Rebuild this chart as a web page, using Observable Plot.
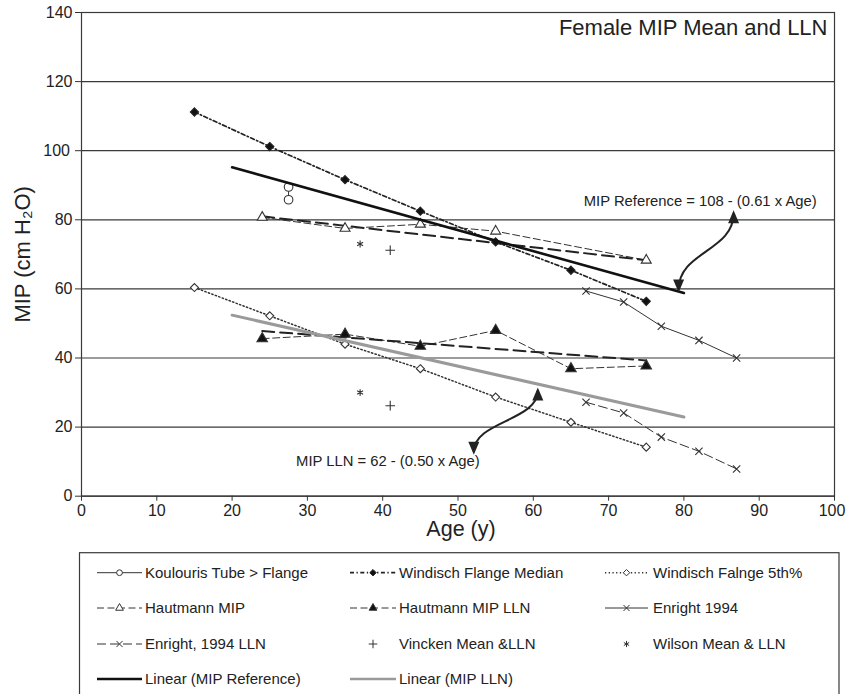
<!DOCTYPE html>
<html><head><meta charset="utf-8">
<script src="https://cdn.jsdelivr.net/npm/d3@7"></script>
<script src="https://cdn.jsdelivr.net/npm/@observablehq/plot@0.6"></script>
<style>
body{margin:0;background:#fff;font-family:"Liberation Sans",Arial,sans-serif;}
#chart svg,#legend svg{display:block}
</style></head><body><div id="chart"></div><div id="legend"></div>
<script>
// ---------- data ----------
const xTicks = [0,10,20,30,40,50,60,70,80,90,100];
const yTicks = [0,20,40,60,80,100,120,140];

const koulourisAge = [27.5, 27.5];
const koulourisMIP = [89.5, 85.8];
const windischMedianAge = [15,25,35,45,55,65,75];
const windischMedianMIP = [111.2,101.2,91.6,82.5,73.6,65.4,56.4];
const windisch5thAge = [15,25,35,45,55,65,75];
const windisch5thMIP = [60.4,52.2,44.0,36.9,28.7,21.4,14.2];
const hautmannAge = [24,35,45,55,75];
const hautmannMIP = [80.7,77.5,78.7,76.7,68.3];
const hautmannLLNAge = [24,35,45,55,65,75];
const hautmannLLNMIP = [45.6,46.9,43.4,48.0,36.9,37.7];
const hautmannTrendAge = [24,75];
const hautmannTrendMIP = [81.0,68.3];
const hautmannLLNTrendMIP = [47.8,39.3];
const enrightAge = [67,72,77,82,87];
const enrightMIP = [59.4,56.2,49.2,45.1,40.0];
const enrightLLNMIP = [27.2,24.1,17.1,13.0,7.9];
const vinckenAge = [41,41];
const vinckenMIP = [71.2,26.2];
const wilsonAge = [37,37];
const wilsonMIP = [73.0,30.0];
const refLineAge = [20,80];
const refLineMIP = [95.2,58.8];
const llnLineAge = [20,80];
const llnLineMIP = [52.4,22.9];

const seriesNames = ["Koulouris Tube > Flange","Windisch Flange Median","Windisch Falnge 5th%",
  "Hautmann MIP","Hautmann MIP LLN","Enright 1994",
  "Enright, 1994 LLN","Vincken Mean &LLN","Wilson Mean & LLN",
  "Linear (MIP Reference)","Linear (MIP LLN)"];

const seriesData = {
  "Koulouris Tube > Flange": [koulourisAge, koulourisMIP],
  "Windisch Flange Median": [windischMedianAge, windischMedianMIP],
  "Windisch Falnge 5th%": [windisch5thAge, windisch5thMIP],
  "Hautmann MIP": [hautmannAge, hautmannMIP],
  "Hautmann MIP LLN": [hautmannLLNAge, hautmannLLNMIP],
  "Enright 1994": [enrightAge, enrightMIP],
  "Enright, 1994 LLN": [enrightAge, enrightLLNMIP],
  "Vincken Mean &LLN": [vinckenAge, vinckenMIP],
  "Wilson Mean & LLN": [wilsonAge, wilsonMIP],
  "Linear (MIP Reference)": [refLineAge, refLineMIP],
  "Linear (MIP LLN)": [llnLineAge, llnLineMIP]
};
const hautmannTrends = [[hautmannTrendAge, hautmannTrendMIP],[hautmannTrendAge, hautmannLLNTrendMIP]];

const titleText = "Female MIP Mean and LLN";
const xLabel = "Age (y)";
const yLabel = "MIP (cm H\u2082O)";
const annotations = [
  {age:66.7, mip:85.4, text:"MIP Reference = 108 - (0.61 x Age)"},
  {age:28.5, mip:10.0, text:"MIP LLN = 62 - (0.50 x Age)"}
];
const arrows = [
  {x1:86.6, y1:81.9, x2:79.3, y2:59.8},
  {x1:60.6, y1:30.6, x2:52.1, y2:12.9}
];

// ---------- styles ----------
const seriesStyle = {
  "Koulouris Tube > Flange": {stroke:"#333", sw:1, dash:null, symbol:"circle", fill:"white", r:4.3},
  "Windisch Flange Median": {stroke:"#222", sw:1.7, dash:"4,2.5,1.3,2.5", symbol:"diamond2", fill:"#111", r:3.7},
  "Windisch Falnge 5th%": {stroke:"#333", sw:1.5, dash:"1.3,2.4", symbol:"diamond2", fill:"white", r:3.6},
  "Hautmann MIP": {stroke:"#333", sw:1, dash:"7,3.5", symbol:"triangle", fill:"white", r:3.7},
  "Hautmann MIP LLN": {stroke:"#333", sw:1, dash:"7,3.5", symbol:"triangle", fill:"#111", r:3.9},
  "Enright 1994": {stroke:"#333", sw:1, dash:null, symbol:"times", fill:"none", r:3.4},
  "Enright, 1994 LLN": {stroke:"#333", sw:1, dash:"9,4", symbol:"times", fill:"none", r:3.4},
  "Vincken Mean &LLN": {stroke:"#333", sw:1, noLine:true, symbol:"plus", fill:"none", r:3.2},
  "Wilson Mean & LLN": {stroke:"#333", sw:1, noLine:true, symbol:"asterisk", fill:"none", r:3.2},
  "Linear (MIP Reference)": {stroke:"#111", sw:2.6, dash:null, symbol:null},
  "Linear (MIP LLN)": {stroke:"#9a9a9a", sw:3, dash:null, symbol:null}
};
const FONT = "'Liberation Sans', Arial, sans-serif";
const rowsOf = ([a, m]) => a.map((v, i) => ({age: v, mip: m[i]}));

function arrowHead(color) {
  const m = d3.create("svg:marker")
    .attr("viewBox", "-12 -7 16 14")
    .attr("markerWidth", 16).attr("markerHeight", 14)
    .attr("markerUnits", "userSpaceOnUse")
    .attr("orient", "auto-start-reverse")
    .attr("fill", color).attr("stroke", "none");
  m.append("path").attr("d", "M-10,-5.5L3,0L-10,5.5Z");
  return m.node();
}

function build(marker) {
  const lineMarks = [], dotMarks = [], trendMarks = [];
  for (const name of seriesNames) {
    const s = seriesStyle[name];
    const rows = rowsOf(seriesData[name]);
    const lineOpts = {x:"age", y:"mip", stroke:s.stroke, strokeWidth:s.sw};
    if (s.dash) lineOpts.strokeDasharray = s.dash;
    if (name.startsWith("Linear")) trendMarks.push(Plot.line(rows, lineOpts));
    else if (!s.noLine) lineMarks.push(Plot.line(rows, lineOpts));
    if (s.symbol) dotMarks.push(Plot.dot(rows, {x:"age", y:"mip", symbol:s.symbol, r:s.r, fill:s.fill, stroke:s.stroke, strokeWidth:1.1}));
  }
  for (const t of hautmannTrends) {
    lineMarks.push(Plot.line(rowsOf(t), {x:"age", y:"mip", stroke:"#222", strokeWidth:2, strokeDasharray:"12,6"}));
  }
  return Plot.plot({
    width: 846, height: 545,
    marginLeft: 81, marginRight: 12, marginTop: 12, marginBottom: 49.3,
    x: {domain: [0, 100]},
    y: {domain: [0, 140]},
    style: {fontFamily: FONT, color: "#222", background: "white"},
    marks: [
      Plot.gridY(yTicks, {stroke: "#3a3a3a", strokeOpacity: 1, strokeWidth: 1.2}),
      Plot.frame({stroke: "#3a3a3a", strokeWidth: 1.2}),
      Plot.axisX(xTicks, {tickSize: 5, tickPadding: 3, fontSize: 16, label: null, stroke: "#333"}),
      Plot.axisY(yTicks, {tickSize: 6, tickPadding: 3, fontSize: 16, label: null, stroke: "#333"}),
      ...lineMarks,
      ...dotMarks,
      ...trendMarks,
      Plot.link(arrows, {x1:"x1", y1:"y1", x2:"x2", y2:"y2", curve:"bump-y", stroke:"#222", strokeWidth:2,
        markerStart: marker, markerEnd: marker}),
      Plot.text(annotations, {x:"age", y:"mip", text:"text", textAnchor:"start", fontSize:14.8, fill:"#222"}),
      Plot.text([titleText], {frameAnchor:"top-right", dx:-7, dy:15, lineAnchor:"middle", fontSize:22, fill:"#222"}),
      Plot.text([xLabel], {frameAnchor:"bottom", dx:3, dy:33, lineAnchor:"middle", fontSize:21.5, fill:"#222"}),
      Plot.text([yLabel], {frameAnchor:"left", textAnchor:"middle", dx:-59, rotate:-90, lineAnchor:"middle", fontSize:22, fill:"#222"})
    ]
  });
}

let chart;
try { chart = build(arrowHead); } catch (e) { chart = build("arrow"); }
document.getElementById("chart").append(chart);
// keep the last x tick label ("100") inside the window, as in the reference
{
  const labels = Array.from(chart.querySelectorAll("text")).filter(t => t.textContent === "100");
  labels.forEach(t => t.setAttribute("dx", "-2.5"));
}

// ---------- legend ----------
const symbolTypes = {circle: d3.symbolCircle, diamond2: d3.symbolDiamond2, triangle: d3.symbolTriangle,
  times: d3.symbolTimes, plus: d3.symbolPlus, asterisk: d3.symbolAsterisk};
const legendCols = [{x0:97, x1:142, tx:145}, {x0:350, x1:396, tx:399}, {x0:605, x1:648, tx:653}];
const legendRowY = [27.7, 63, 99, 134];
const lg = d3.select("#legend").append("svg").attr("width", 846).attr("height", 149)
  .style("font-family", FONT);
lg.append("rect").attr("x", 79.5).attr("y", 7.7).attr("width", 759.5).attr("height", 200)
  .attr("fill", "none").attr("stroke", "#3a3a3a").attr("stroke-width", 1.2);
seriesNames.forEach((name, i) => {
  const s = seriesStyle[name];
  const col = legendCols[i % 3], y = legendRowY[Math.floor(i / 3)];
  const g = lg.append("g");
  if (!s.noLine) {
    g.append("line").attr("x1", col.x0).attr("x2", col.x1).attr("y1", y).attr("y2", y)
      .attr("stroke", s.stroke).attr("stroke-width", Math.min(s.sw, 2.6))
      .attr("stroke-dasharray", s.dash || null);
  }
  if (s.symbol) {
    const cx = (col.x0 + col.x1) / 2;
    const sym = d3.symbol(symbolTypes[s.symbol], 26);
    g.append("path").attr("d", sym()).attr("transform", `translate(${cx},${y})`)
      .attr("fill", s.fill).attr("stroke", s.stroke).attr("stroke-width", 1);
  }
  g.append("text").attr("x", col.tx).attr("y", y).attr("dy", "0.35em")
    .attr("font-size", 15).attr("fill", "#222").text(name);
});
</script>
</body></html>
